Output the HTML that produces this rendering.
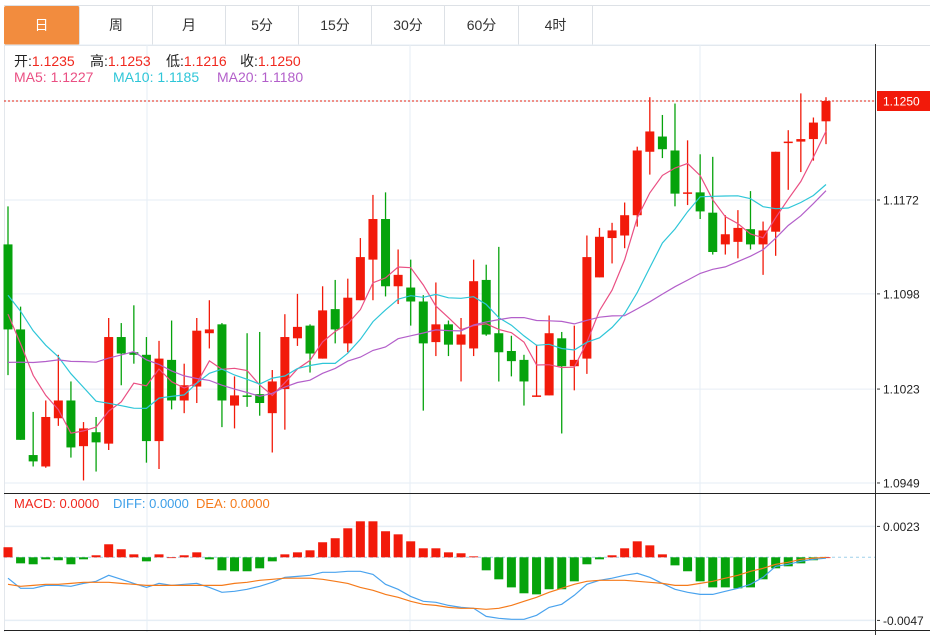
<!DOCTYPE html>
<html><head><meta charset="utf-8">
<style>
body{margin:0;width:930px;height:635px;background:#fff;overflow:hidden;font-family:"Liberation Sans","Noto Sans CJK SC",sans-serif;}
#tabs{position:absolute;left:4px;top:5px;height:39px;width:926px;border-top:1px solid #dde1e6;border-bottom:1px solid #dde1e6;}
.tab{position:absolute;top:0;height:39px;line-height:39px;text-align:center;font-size:14px;color:#333;border-right:1px solid #dde1e6;box-sizing:border-box;}
.tab.on{background:#f28c3e;color:#fff;border-radius:2px;}
#chart{position:absolute;left:0;top:0;}
.hl{position:absolute;font-size:14px;white-space:nowrap;height:18px;}
.hl > span{position:absolute;top:0;white-space:nowrap;}
</style></head><body>
<div id="tabs">
<div class="tab on" style="left:0;width:76px">日</div>
<div class="tab" style="left:76px;width:73px">周</div>
<div class="tab" style="left:149px;width:73px">月</div>
<div class="tab" style="left:222px;width:73px">5分</div>
<div class="tab" style="left:295px;width:73px">15分</div>
<div class="tab" style="left:368px;width:73px">30分</div>
<div class="tab" style="left:441px;width:74px">60分</div>
<div class="tab" style="left:515px;width:74px">4时</div>
</div>
<svg id="chart" width="930" height="635"></svg>
<div class="hl" style="top:51px;left:0;width:400px"><span style="left:14px;color:#222">开:<b style="font-weight:normal;color:#f0281e">1.1235</b></span><span style="left:90px;color:#222">高:<b style="font-weight:normal;color:#f0281e">1.1253</b></span><span style="left:166px;color:#222">低:<b style="font-weight:normal;color:#f0281e">1.1216</b></span><span style="left:240px;color:#222">收:<b style="font-weight:normal;color:#f0281e">1.1250</b></span></div>
<div class="hl" style="top:69px;left:0;width:400px"><span style="left:14px;color:#ea4f83">MA5: 1.1227</span><span style="left:113px;color:#2ec6d8">MA10: 1.1185</span><span style="left:217px;color:#b35fca">MA20: 1.1180</span></div>
<div class="hl" style="top:496px;left:0;width:400px;font-size:13px"><span style="left:14px;color:#f0281e">MACD: 0.0000</span><span style="left:113px;color:#3d9fe8">DIFF: 0.0000</span><span style="left:196px;color:#f57a1a">DEA: 0.0000</span></div>
<script>
const prevCloses=[1.0980,1.0970,1.0985,1.0990,1.1000,1.0995,1.0990,1.1000,1.1000,1.1000,1.1110,1.1120,1.1115,1.1105,1.1110,1.1100,1.1090,1.1080,1.1070];
const opens=[1.1137,1.1070,1.0971,1.0962,1.1000,1.1014,1.0978,1.0989,1.0980,1.1064,1.1052,1.1050,1.0982,1.1046,1.1014,1.1025,1.1067,1.1074,1.1010,1.1018,1.1019,1.1004,1.1023,1.1063,1.1073,1.1047,1.1086,1.1059,1.1093,1.1125,1.1157,1.1104,1.1103,1.1092,1.1060,1.1074,1.1058,1.1055,1.1109,1.1067,1.1053,1.1046,1.1017,1.1018,1.1063,1.1041,1.1047,1.1111,1.1142,1.1144,1.1160,1.1210,1.1222,1.1211,1.1177,1.1178,1.1162,1.1137,1.1139,1.1149,1.1137,1.1147,1.1217,1.1218,1.1220,1.1234];
const highs=[1.1167,1.1088,1.1005,1.1014,1.1050,1.1029,1.0997,1.1001,1.1079,1.1075,1.1089,1.1064,1.1061,1.1077,1.1043,1.1079,1.1093,1.1075,1.1033,1.1067,1.1068,1.1038,1.1082,1.1098,1.1074,1.1104,1.1109,1.1110,1.1142,1.1176,1.1178,1.1133,1.1125,1.1097,1.1107,1.1077,1.1079,1.1125,1.1121,1.1135,1.1065,1.1050,1.1058,1.1081,1.1068,1.1073,1.1144,1.1150,1.1154,1.1170,1.1214,1.1253,1.1239,1.1248,1.1219,1.1208,1.1206,1.1160,1.1164,1.1179,1.1155,1.1210,1.1227,1.1256,1.1237,1.1253];
const lows=[1.1034,1.0983,1.0962,1.0961,1.0994,1.0969,1.0951,1.0958,1.0975,1.1026,1.1043,1.0965,1.0960,1.1007,1.1004,1.1012,1.1055,1.0993,1.0992,1.1009,1.1002,1.0973,1.0991,1.1057,1.1036,1.1047,1.1059,1.1052,1.1093,1.1093,1.1096,1.1090,1.1073,1.1006,1.1049,1.1049,1.1029,1.1049,1.1065,1.1029,1.1033,1.1010,1.1017,1.1018,1.0988,1.1022,1.1035,1.1111,1.1122,1.1134,1.1151,1.1192,1.1205,1.1167,1.1168,1.1157,1.1129,1.1129,1.1126,1.1133,1.1113,1.1128,1.1180,1.1194,1.1203,1.1216];
const closes=[1.1070,1.0983,1.0966,1.1001,1.1014,1.0977,1.0992,1.0981,1.1064,1.1051,1.1050,1.0982,1.1047,1.1014,1.1026,1.1069,1.1070,1.1014,1.1018,1.1017,1.1012,1.1029,1.1064,1.1072,1.1051,1.1085,1.1070,1.1095,1.1127,1.1157,1.1104,1.1113,1.1092,1.1059,1.1074,1.1058,1.1066,1.1108,1.1066,1.1052,1.1045,1.1029,1.1018,1.1067,1.1041,1.1046,1.1127,1.1143,1.1148,1.1160,1.1211,1.1226,1.1212,1.1177,1.1178,1.1163,1.1131,1.1145,1.1150,1.1137,1.1148,1.1210,1.1218,1.1220,1.1233,1.1250];
const macdHist=[0.00075,-0.00045,-0.00052,-0.00015,-0.00022,-0.00052,-0.00015,0.00015,0.00097,0.0006,0.00022,-0.0003,0.00022,0,0.00015,0.00037,-0.00015,-0.00097,-0.00104,-0.00104,-0.00082,-0.0003,0.00022,0.00037,0.00052,0.00112,0.00142,0.00216,0.00268,0.00268,0.00194,0.00171,0.00119,0.00067,0.00067,0.00037,0.0003,0.00007,-0.00097,-0.00164,-0.00224,-0.00268,-0.00276,-0.00238,-0.00238,-0.00179,-0.00052,-0.00015,0.00015,0.00067,0.00119,0.00089,0.00022,-0.0006,-0.00104,-0.00179,-0.00224,-0.00224,-0.00231,-0.00224,-0.00164,-0.00082,-0.00067,-0.00045,-0.00022,0];
const diffVals=[-0.00156,-0.00231,-0.00231,-0.00209,-0.00209,-0.00216,-0.00194,-0.00179,-0.00134,-0.00164,-0.00194,-0.00224,-0.00194,-0.00209,-0.00201,-0.00194,-0.00224,-0.00261,-0.00253,-0.00238,-0.00216,-0.00186,-0.00149,-0.00142,-0.00134,-0.00112,-0.00112,-0.00104,-0.00104,-0.00127,-0.00201,-0.00238,-0.00291,-0.00328,-0.00335,-0.00358,-0.00373,-0.0038,-0.0044,-0.00454,-0.00462,-0.00462,-0.00432,-0.00373,-0.0035,-0.00283,-0.00201,-0.00171,-0.00156,-0.00134,-0.00119,-0.00149,-0.00194,-0.00238,-0.00261,-0.00276,-0.00276,-0.00253,-0.00231,-0.00201,-0.00149,-0.00067,-0.00052,-0.0003,-0.00015,-0.00007];
const deaVals=[-0.00201,-0.00216,-0.00209,-0.00201,-0.00201,-0.00194,-0.00186,-0.00186,-0.00186,-0.00194,-0.00201,-0.00209,-0.00209,-0.00209,-0.00209,-0.00209,-0.00209,-0.00209,-0.00194,-0.00186,-0.00171,-0.00164,-0.00156,-0.00156,-0.00156,-0.00164,-0.00179,-0.00194,-0.00224,-0.00246,-0.00276,-0.00298,-0.00328,-0.0035,-0.00358,-0.00373,-0.0038,-0.0038,-0.00387,-0.0038,-0.00358,-0.00328,-0.00298,-0.00261,-0.00231,-0.00201,-0.00179,-0.00171,-0.00171,-0.00171,-0.00179,-0.00186,-0.00194,-0.00209,-0.00209,-0.00194,-0.00179,-0.00156,-0.00134,-0.00104,-0.00082,-0.00052,-0.00037,-0.00015,-0.00007,0];
const priceTicks=[1.1250,1.1172,1.1098,1.1023,1.0949];
const priceTickLabels=["1.1250","1.1172","1.1098","1.1023","1.0949"];
const macdTicks=[0.0023,-0.0047];
const macdTickLabels=["0.0023","-0.0047"];

const NS="http://www.w3.org/2000/svg";
const svg=document.getElementById('chart');
const X0=8,DX=(826-8)/65,PL=4,PR=875;
function xs(i){return X0+i*DX;}
function yp(p){return 101+(1.1250-p)*12690;}
function ym(v){return 557.3-v*13429;}
function mk(tag,attrs,parent){const e=document.createElementNS(NS,tag);for(const k in attrs)e.setAttribute(k,attrs[k]);(parent||svg).appendChild(e);return e;}
[45].concat(priceTicks.map(yp)).forEach(y=>{const l=mk('line',{x1:PL,x2:PR,y1:y,y2:y,stroke:'#e6eef5','stroke-width':1});});
macdTicks.forEach(v=>{const l=mk('line',{x1:PL,x2:PR,y1:ym(v),y2:ym(v),stroke:'#e6eef5','stroke-width':1.5});});
[147,410,700].forEach(x=>{const l=mk('line',{x1:x,x2:x,y1:45,y2:632,stroke:'#e6eef5','stroke-width':1});});
mk('line',{x1:4.5,x2:4.5,y1:44,y2:632,stroke:'#e3e7ec'});
mk('line',{x1:875.5,x2:875.5,y1:44,y2:635,stroke:'#333'});
mk('line',{x1:4,x2:930,y1:493.5,y2:493.5,stroke:'#222'});
mk('line',{x1:4,x2:930,y1:630.5,y2:630.5,stroke:'#222'});
mk('line',{x1:PL,x2:PR,y1:557.3,y2:557.3,stroke:'#9fd0ea','stroke-dasharray':'3,3'});
const G=mk('g',{});


for(let i=0;i<closes.length;i++){
  const up=closes[i]>=opens[i];const c=up?'#f21a0a':'#06a30c';const x=xs(i);
  const g=mk('g',{},G);
  
  
  mk('line',{x1:x,x2:x,y1:yp(highs[i]),y2:yp(lows[i]),stroke:c,'stroke-width':1.3},g);
  const t=yp(Math.max(opens[i],closes[i])),b=yp(Math.min(opens[i],closes[i]));
  mk('rect',{x:x-4.5,y:t,width:9,height:Math.max(1.5,b-t),fill:c},g);
}
const allC=prevCloses.concat(closes);
function ma(n){const r=[];for(let i=0;i<closes.length;i++){const j=i+prevCloses.length;let s=0;for(let k=j-n+1;k<=j;k++)s+=allC[k];r.push(s/n);}return r;}
[[5,'#ea4f83','ma5-line'],[10,'#2ec6d8','ma10-line'],[20,'#b35fca','ma20-line']].forEach(([n,c,nm])=>{
  const pts=ma(n).map((v,i)=>xs(i).toFixed(1)+','+yp(v).toFixed(1)).join(' ');
  const l=mk('polyline',{points:pts,fill:'none',stroke:c,'stroke-width':1.2});
  
  
});
mk('line',{x1:PL,x2:PR,y1:yp(closes[closes.length-1]),y2:yp(closes[closes.length-1]),stroke:'#e02010','stroke-dasharray':'2,2'});
macdHist.forEach((v,i)=>{const x=xs(i);const y=ym(v);const r=mk('rect',{x:x-4.5,y:Math.min(y,557.3),width:9,height:Math.max(0.8,Math.abs(y-557.3)),fill:v>=0?'#f21a0a':'#06a30c'});
  
  });
[[diffVals,'#4aa3ee','diff-line'],[deaVals,'#f57a1a','dea-line']].forEach(([arr,c,nm])=>{
  const l=mk('polyline',{points:arr.map((v,i)=>xs(i).toFixed(1)+','+ym(v).toFixed(1)).join(' '),fill:'none',stroke:c,'stroke-width':1.2});
  
  
});
priceTicks.forEach((p,i)=>{const y=yp(p);mk('line',{x1:877,x2:880,y1:y,y2:y,stroke:'#333'});
  if(i===0)return;
  const t=mk('text',{x:883,y:y+4.5,'font-size':12,fill:'#222','font-family':'Liberation Sans, sans-serif'});t.textContent=priceTickLabels[i];
  
  });
const lp=yp(closes[closes.length-1]);
mk('rect',{x:877,y:lp-10,width:53,height:20,fill:'#f21a0a'});
const lt=mk('text',{x:883,y:lp+4.5,'font-size':12,fill:'#fff','font-family':'Liberation Sans, sans-serif'});lt.textContent=priceTickLabels[0];


macdTicks.forEach((v,i)=>{const y=ym(v);mk('line',{x1:877,x2:880,y1:y,y2:y,stroke:'#333'});
  const t=mk('text',{x:883,y:y+4.5,'font-size':12,fill:'#222','font-family':'Liberation Sans, sans-serif'});t.textContent=macdTickLabels[i];
  
  });
</script>
</body></html>
